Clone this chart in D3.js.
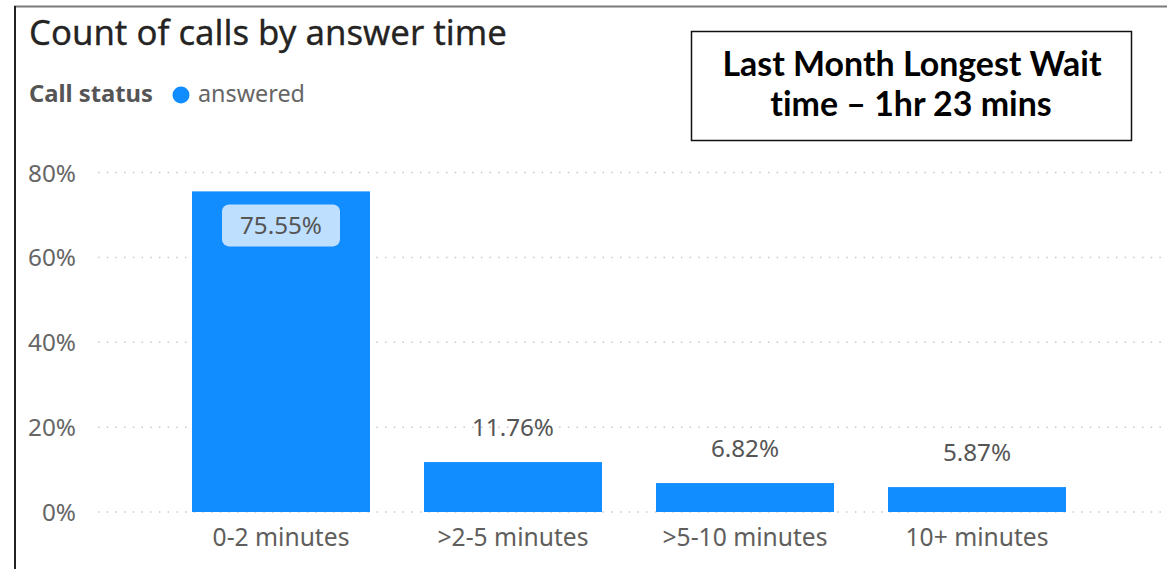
<!DOCTYPE html>
<html><head><meta charset="utf-8">
<script src="https://cdn.jsdelivr.net/npm/d3@7"></script>
<style>body{margin:0;background:#fff}svg{display:block}text{font-variant-ligatures:none}</style>
</head><body>
<svg id="c" width="1167" height="569"></svg>
<script>
const categories = ["0-2 minutes", ">2-5 minutes", ">5-10 minutes", "10+ minutes"];
const values = [75.55, 11.76, 6.82, 5.87];
const yTicks = [0, 20, 40, 60, 80];
const title = "Count of calls by answer time";
const legendTitle = "Call status";
const legendItems = ["answered"];
const noteLines = ["Last Month Longest Wait", "time \u2013 1hr 23 mins"];

const svg = d3.select("#c");
const FONT = "'Noto Sans', 'DejaVu Sans', sans-serif";

function fit(sel, w) {
  const n = sel.node();
  const cur = parseFloat(sel.attr("font-size"));
  const len = n.getComputedTextLength();
  sel.attr("font-size", (cur * w / len).toFixed(2));
}

// frame
svg.append("line").attr("x1", 14).attr("x2", 1167).attr("y1", 6.5).attr("y2", 6.5)
  .attr("stroke", "#7a7a7a").attr("stroke-width", 2);
svg.append("line").attr("x1", 15).attr("x2", 15).attr("y1", 6).attr("y2", 569)
  .attr("stroke", "#222").attr("stroke-width", 2);

const y = d3.scaleLinear().domain([0, 80]).range([512, 172.5]);
const x = d3.scaleBand().domain(categories).range([165, 1093])
  .paddingInner(54 / 232).paddingOuter(27 / 232);

// gridlines
svg.append("g").selectAll("line").data(yTicks).join("line")
  .attr("x1", 98).attr("x2", 1167)
  .attr("y1", d => y(d)).attr("y2", d => y(d))
  .attr("stroke", "#c8c8c8").attr("stroke-width", 1.5)
  .attr("stroke-dasharray", "1.5,7.2");

// y axis labels
const yAxis = d3.axisLeft(y).tickValues(yTicks).tickFormat(d => d + "%").tickSize(0).tickPadding(0);
const ga = svg.append("g").attr("transform", "translate(76,0)").call(yAxis);
ga.select(".domain").remove();
ga.selectAll("text").attr("font-family", FONT).attr("font-size", 19).attr("fill", "#666").attr("dy", "0.35em");
{
  const t = ga.selectAll("text").filter(d => d === 80);
  fit(t, 48);
  ga.selectAll("text").attr("font-size", t.attr("font-size"));
}

// bars
svg.append("g").selectAll("rect").data(values).join("rect")
  .attr("x", (d, i) => x(categories[i]))
  .attr("width", x.bandwidth())
  .attr("y", d => y(d))
  .attr("height", d => y(0) - y(d))
  .attr("fill", "#118DFF");

// x axis labels
const xAxis = d3.axisBottom(x).tickSize(0).tickPadding(0);
const gx = svg.append("g").attr("transform", "translate(0,546)").call(xAxis);
gx.select(".domain").remove();
gx.selectAll("text").attr("font-family", FONT).attr("font-size", 19).attr("fill", "#605E5C").attr("dy", 0);
{
  const t = gx.selectAll("text").filter(d => d === categories[0]);
  fit(t, 137);
  gx.selectAll("text").attr("font-size", t.attr("font-size"));
}

// data labels
const lbl = svg.append("g");
let labelSize = null;
values.forEach((v, i) => {
  const cx = x(categories[i]) + x.bandwidth() / 2;
  const inside = y(v) < 260;
  if (inside) {
    lbl.append("rect").attr("x", cx - 59).attr("y", y(v) + 13).attr("width", 118).attr("height", 42)
      .attr("rx", 7).attr("fill", "#BFDFFF");
  }
  const t = lbl.append("text").attr("x", cx).attr("y", inside ? y(v) + 43 : y(v) - 26)
    .attr("text-anchor", "middle").attr("font-family", FONT).attr("font-size", 19)
    .attr("fill", "#555").text(v.toFixed(2) + "%");
  if (labelSize === null) { fit(t, 82); labelSize = t.attr("font-size"); }
  else t.attr("font-size", labelSize);
});

// title
const tt = svg.append("text").attr("x", 29).attr("y", 45).attr("font-family", FONT)
  .attr("font-size", 26).attr("fill", "#252423").attr("stroke", "#252423").attr("stroke-width", 0.3).text(title);
fit(tt, 478);

// legend
const lt = svg.append("text").attr("x", 29).attr("y", 102).attr("font-family", FONT)
  .attr("font-weight", "bold").attr("font-size", 19).attr("fill", "#555").text(legendTitle);
fit(lt, 124);
svg.append("circle").attr("cx", 181).attr("cy", 95).attr("r", 8.5).attr("fill", "#118DFF");
const li = svg.append("text").attr("x", 198).attr("y", 102).attr("font-family", FONT)
  .attr("font-size", 19).attr("fill", "#666").text(legendItems[0]);
fit(li, 107);

// note box
svg.append("rect").attr("x", 691.5).attr("y", 31.5).attr("width", 440).attr("height", 109)
  .attr("fill", "#fff").attr("stroke", "#111").attr("stroke-width", 1.5);
const NF = "Lato, 'Liberation Sans', Arial, sans-serif";
const n1 = svg.append("text").attr("x", 912).attr("y", 76).attr("text-anchor", "middle")
  .attr("font-family", NF).attr("font-weight", "bold").attr("font-size", 28).attr("fill", "#000").text(noteLines[0]);
fit(n1, 379);
const n2 = svg.append("text").attr("x", 911).attr("y", 116).attr("text-anchor", "middle")
  .attr("font-family", NF).attr("font-weight", "bold").attr("font-size", n1.attr("font-size")).attr("fill", "#000").text(noteLines[1]);
</script>
</body></html>
